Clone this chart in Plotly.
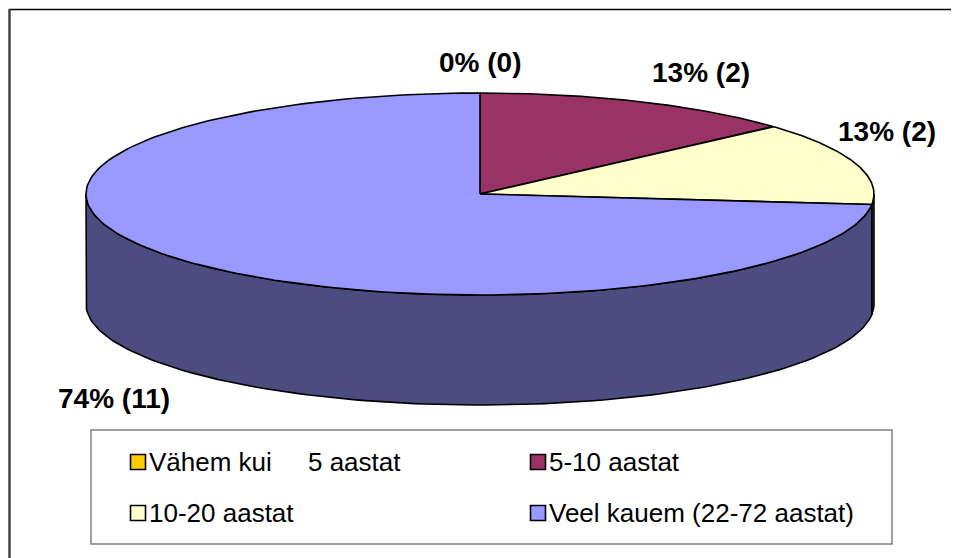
import numpy as np
import plotly.graph_objects as go

# andmed
kategooriad = ["Vähem kui     5 aastat", "5-10 aastat", "10-20 aastat", "Veel kauem (22-72 aastat)"]
vaartused = [0, 2, 2, 11]
protsendid = [0, 13, 13, 74]
varvid = ["#FFCC00", "#993366", "#FFFFCC", "#9999FF"]
kulje_varvid = ["#806600", "#4D1A33", "#808066", "#4C4C80"]

# piruka geomeetria (lehe pikslites)
cx, cy, rx, ry, sugavus = 480, 194, 394, 101, 110

def ellips(t, dy=0):
    r = np.radians(t)
    return cx + rx * np.sin(r), cy - ry * np.cos(r) + dy

nurgad = np.concatenate([[0], np.cumsum(vaartused)]) / sum(vaartused) * 360

fig = go.Figure()

# küljed (ainult esimene pool on näha)
for i in range(len(vaartused)):
    a0, a1 = max(nurgad[i], 90), min(nurgad[i + 1], 270)
    if a1 <= a0:
        continue
    t = np.linspace(a0, a1, 120)
    xt, yt = ellips(t)
    xb, yb = ellips(t[::-1], sugavus)
    fig.add_trace(go.Scatter(x=np.concatenate([xt, xb, xt[:1]]), y=np.concatenate([yt, yb, yt[:1]]),
                             mode="lines", fill="toself", fillcolor=kulje_varvid[i],
                             line=dict(color="black", width=1.6), hoverinfo="skip", showlegend=False))

# pealmised tükid
for i in range(len(vaartused)):
    if vaartused[i] == 0:
        continue
    t = np.linspace(nurgad[i], nurgad[i + 1], 200)
    xa, ya = ellips(t)
    fig.add_trace(go.Scatter(x=np.concatenate([[cx], xa, [cx]]), y=np.concatenate([[cy], ya, [cy]]),
                             mode="lines", fill="toself", fillcolor=varvid[i],
                             line=dict(color="black", width=1.6), hoverinfo="skip", showlegend=False))

# andmesildid
sildi_kohad = [(480, 62), (701, 72), (887, 131), (114, 398)]
for i, (x, y) in enumerate(sildi_kohad):
    fig.add_annotation(x=x, y=y, text=f"{protsendid[i]}% ({vaartused[i]})", showarrow=False,
                       font=dict(family="Arial, Liberation Sans", size=28, color="black", weight="bold"),
                       xanchor="center", yanchor="middle")

# legend
leg_kohad = [(138, 462), (538, 462), (138, 513), (538, 513)]
fig.add_trace(go.Scatter(x=[p[0] for p in leg_kohad], y=[p[1] for p in leg_kohad], mode="markers",
                         marker=dict(symbol="square", size=15, color=varvid, line=dict(color="black", width=1.6)),
                         hoverinfo="skip", showlegend=False))
for i, (x, y) in enumerate(leg_kohad):
    fig.add_annotation(x=x + 9, y=y, text=kategooriad[i].replace("  ", "\u00a0\u00a0"), showarrow=False,
                       font=dict(family="Arial, Liberation Sans", size=26, color="black"),
                       xanchor="left", yanchor="middle")

fig.add_shape(type="rect", x0=91, y0=430, x1=892, y1=544, line=dict(color="#808080", width=1.5))
# diagrammi ala raam
fig.add_shape(type="line", x0=9, y0=9.5, x1=959, y1=9.5, line=dict(color="black", width=1.5))
fig.add_shape(type="line", x0=9.5, y0=9, x1=9.5, y1=558, line=dict(color="#444444", width=2.5))

# lehel on 8 px äär, joonis algab kohast (8, 8)
fig.update_layout(width=951, height=550, margin=dict(l=0, r=0, t=0, b=0),
                  paper_bgcolor="white", plot_bgcolor="white",
                  xaxis=dict(range=[8, 959], visible=False, fixedrange=True),
                  yaxis=dict(range=[558, 8], visible=False, fixedrange=True))

fig.write_html("out.html", config={"displayModeBar": False},
               post_script="document.documentElement.style.overflow='hidden';")
